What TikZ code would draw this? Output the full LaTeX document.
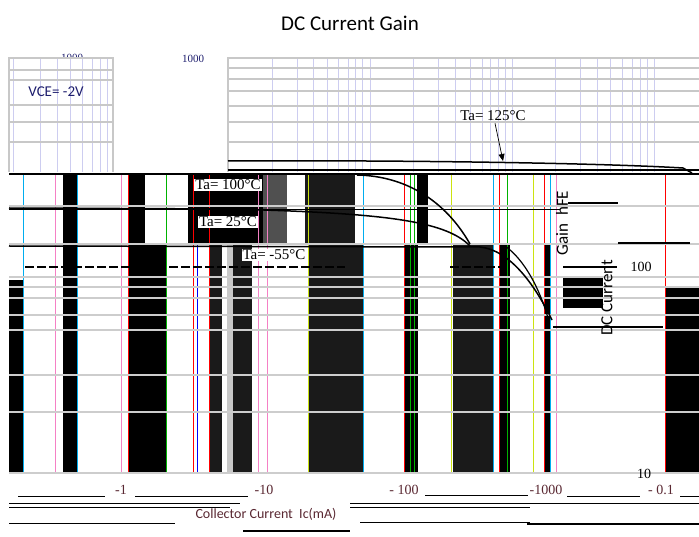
\documentclass[tikz,border=0pt]{standalone}
\usepackage{fontspec}
\setmainfont{Liberation Serif}
\newfontfamily\calfont{Carlito}
\usetikzlibrary{arrows.meta}
\definecolor{gridblue}{RGB}{205,205,240}
\definecolor{gridgray}{RGB}{200,200,200}
\definecolor{hl}{RGB}{205,205,205}
\definecolor{dark}{RGB}{26,26,26}
\definecolor{midgray}{RGB}{80,80,80}
\definecolor{navy}{RGB}{30,30,110}
\definecolor{axred}{RGB}{90,40,50}
\begin{document}
\begin{tikzpicture}[x=1pt,y=-1pt,
  vgrid/.style={draw=gridblue,line width=1pt},
  hgrid/.style={draw=gridgray,line width=1.2pt},
  band/.style={fill=black},
  dband/.style={fill=dark},
  hline/.style={draw=hl,line width=2.5pt},
  edge/.style={line width=0.9pt},
  curve/.style={draw=black,line width=1.5pt},
  lbl/.style={inner sep=0pt,font=\fontsize{15}{15}\selectfont},
  ax/.style={inner sep=0pt,font=\fontsize{14}{14}\selectfont,text=axred}]
\fill[white] (0,0) rectangle (699,537);
\useasboundingbox (0,0) rectangle (699,537);
% title
\node[inner sep=0pt,font=\calfont\fontsize{21}{21}\selectfont] (title) at (350,23) {DC Current Gain};
% partial 1000 above left box
\begin{scope}
\clip (0,0) rectangle (699,57);
\node[inner sep=0pt,font=\fontsize{11}{11}\selectfont,text=navy] (k1) at (72,58) {1000};
\end{scope}
% left box grid
\foreach \x in {13,40,57,70,82,92,100,107} \draw[vgrid] (\x,58) -- (\x,172);
\foreach \y in {70,80,105,122,142} \draw[hgrid] (9,\y) -- (113,\y);
\draw[draw=gridgray,line width=1.5pt] (9,172) -- (9,58) -- (113,58) -- (113,172);
\node[inner sep=0pt,font=\calfont\fontsize{15}{15}\selectfont,text=navy] (vce) at (56,92) {VCE= -2V};
% main top chart grid
\node[inner sep=0pt,font=\fontsize{11}{11}\selectfont,text=navy] (k2) at (193,59) {1000};
\foreach \x in {272,297,313,327,338,348,355,362,370,413,438,455,470,482,490,498,505,512,555,580,597,610,622,632,640,647,654}
  \draw[vgrid] (\x,58) -- (\x,172);
\foreach \y in {68,79,91,106,122,142} \draw[hgrid] (228,\y) -- (699,\y);
\draw[draw=gridgray,line width=2pt] (228,172) -- (228,58) -- (699,58);
\draw[curve] (228,161) .. controls (400,160) and (600,163) .. (683,168) -- (692,173);
\draw[draw=black,line width=1.2pt] (228,170) -- (699,170);
\node[inner sep=0pt,font=\fontsize{15}{15}\selectfont] (t125) at (493,116) {Ta= 125°C};
\coordinate (a125) at (503,161);
\draw[-{Triangle[length=7pt,width=6pt]},line width=0.7pt] (t125.south) ++(2,2) -- (a125);
% glitch band region
\draw[draw=black,line width=1.5pt] (9,174) -- (699,174);
\fill[band] (63,175) rectangle (77,473);
\fill[band] (128,175) rectangle (145,245);
\fill[band] (188,175) rectangle (263,245);
\fill[midgray] (263,175) rectangle (287,245);
\fill[dband] (305,175) rectangle (355,245);
\fill[band] (417,175) rectangle (428,245);
\fill[band] (9,280) rectangle (23,473);
\fill[band] (128,245) rectangle (167,473);
\fill[dband] (209,245) rectangle (222,473);
\fill[gridgray] (227,245) rectangle (233,473);
\fill[dband] (233,245) rectangle (252,473);
\fill[dband] (308,245) rectangle (363,473);
\fill[band] (404,245) rectangle (418,473);
\fill[dband] (453,245) rectangle (493,473);
\fill[band] (500,245) rectangle (510,473);
\fill[band] (544,245) rectangle (550,473);
\fill[band] (665,288) rectangle (699,473);
\fill[band] (563,278) rectangle (603,308);
% coloured edge lines
\foreach \x in {55,121,258,267,556} \draw[edge,draw=magenta!50] (\x,175) -- (\x,473);
\foreach \x in {128,193,209,404,499,544,665} \draw[edge,draw=red] (\x,175) -- (\x,473);
\foreach \x in {23,77,363,493,550} \draw[edge,draw=cyan] (\x,175) -- (\x,473);
\foreach \x in {166,410,414,507} \draw[edge,draw=green!70!black] (\x,175) -- (\x,473);
\foreach \x in {308,451,533} \draw[edge,draw=yellow!80!green] (\x,175) -- (\x,473);
\draw[edge,draw=blue] (197,245) -- (197,473);
% horizontal gray lines
\foreach \y in {206,244,277,287,298,315,330,375,412,473} \draw[hline] (9,\y) -- (699,\y);
\draw[draw=black,line width=0.8pt] (9,209) -- (560,209);
\draw[draw=black,line width=2pt,dash pattern=on 9pt off 3pt] (25,267) -- (345,267);
\draw[draw=black,line width=2pt,dash pattern=on 9pt off 3pt] (450,267) -- (507,267);
\draw[draw=black,line width=2pt] (563,267) -- (617,267);
\draw[draw=black,line width=2pt] (568,203) -- (618,203);
\draw[draw=black,line width=2pt] (618,243) -- (690,243);
\draw[draw=black,line width=2pt] (553,327) -- (663,327);
% curves
\draw[curve] (357,175) .. controls (405,176) and (445,200) .. (470,244);
\draw[curve] (9,208) -- (230,209) .. controls (380,213) and (445,220) .. (470,246);
\draw[curve] (9,246) -- (480,247) .. controls (510,250) and (535,285) .. (552,320);
\draw[draw=black,line width=1.2pt] (505,246) .. controls (525,260) and (540,290) .. (548,318);
% labels in glitch region
\node[lbl,fill=white,inner sep=1pt] (t100) at (228,185) {Ta= 100°C};
\node[lbl,fill=white,inner sep=1pt] (t25) at (228,222) {Ta= 25°C};
\node[lbl,fill=white,inner sep=1pt] (tm55) at (274,255) {Ta= -55°C};
\node[inner sep=0pt,rotate=90,font=\calfont\fontsize{17}{17}\selectfont] (gain) at (562,223) {Gain\ \ hFE};
\node[inner sep=0pt,rotate=90,font=\calfont\fontsize{17}{17}\selectfont] (dcc) at (607,298) {DC Current};
\node[inner sep=0pt,font=\fontsize{14}{14}\selectfont] (y100) at (641,267) {100};
\node[inner sep=0pt,font=\fontsize{14}{14}\selectfont] (y10) at (644,474) {10};
% bottom axis
\node[ax] (x1) at (121,490) {-1};
\node[ax] (x10) at (264,490) {-10};
\node[ax] (x100) at (404,490) {- 100};
\node[ax] (x1000) at (546,490) {-1000};
\node[ax] (x01) at (661,490) {- 0.1};
\node[inner sep=0pt,font=\calfont\fontsize{14}{14}\selectfont,text=axred] (xt) at (266,514) {Collector Current\ \ Ic(mA)};
\draw[line width=1pt] (18,496) -- (105,496) (135,496) -- (248,496);
\draw[line width=1pt] (425,495) -- (528,495);
\draw[line width=1pt] (567,496) -- (640,496) (680,496) -- (699,496);
\draw[line width=1pt] (9,503) -- (240,503) (350,503) -- (699,503);
\draw[line width=1pt] (9,507) -- (230,507) (350,507) -- (530,507);
\draw[line width=1pt] (9,523) -- (175,523) (360,522) -- (530,522);
\draw[line width=1.3pt] (243,531) -- (350,531) (527,524) -- (699,524);
\end{tikzpicture}
\end{document}
